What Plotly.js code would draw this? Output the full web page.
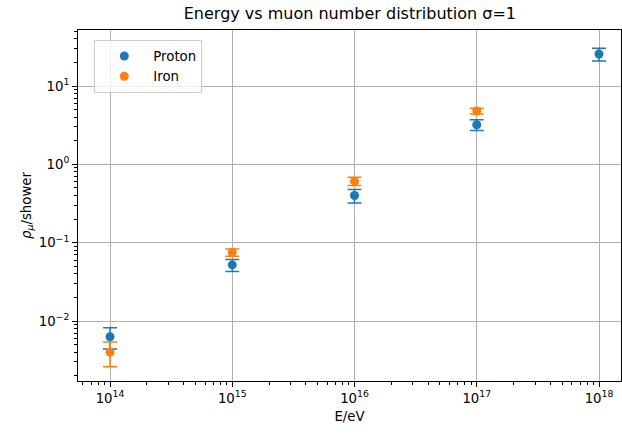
<!DOCTYPE html>
<html>
<head>
<meta charset="utf-8">
<script src="https://cdn.plot.ly/plotly-3.0.1.min.js"></script>
<style>html,body{margin:0;padding:0;background:#fff;}#chart{width:622px;height:435px;}</style>
</head>
<body>
<div id="chart"></div>
<script>
var protonEnergy = [1e14, 1e15, 1e16, 1e17, 1e18];
var protonMuons = [0.0063, 0.052, 0.40, 3.2, 25.6];
var protonErr = [0.0019, 0.009, 0.078, 0.5, 4.8];

var ironEnergy = [1e14, 1e15, 1e16, 1e17];
var ironMuons = [0.0040, 0.075, 0.61, 4.8];
var ironErr = [0.0014, 0.008, 0.075, 0.4];

var xTickVals = [1e14, 1e15, 1e16, 1e17, 1e18];
var xTickText = ['10<sup>14</sup>', '10<sup>15</sup>', '10<sup>16</sup>', '10<sup>17</sup>', '10<sup>18</sup>'];
var yTickVals = [0.01, 0.1, 1, 10];
var yTickText = ['10<sup>\u22122</sup>', '10<sup>\u22121</sup>', '10<sup>0</sup>', '10<sup>1</sup>'];

var traces = [
  {
    x: protonEnergy, y: protonMuons, name: 'Proton', type: 'scatter', mode: 'markers',
    marker: {color: '#1f77b4', size: 9},
    error_y: {type: 'data', array: protonErr, visible: true, color: '#1f77b4', thickness: 1.5, width: 7}
  },
  {
    x: ironEnergy, y: ironMuons, name: 'Iron', type: 'scatter', mode: 'markers',
    marker: {color: '#ff7f0e', size: 9},
    error_y: {type: 'data', array: ironErr, visible: true, color: '#ff7f0e', thickness: 1.5, width: 7}
  }
];

var layout = {
  width: 622, height: 435,
  margin: {l: 78, r: 1, t: 30, b: 54},
  paper_bgcolor: '#fff', plot_bgcolor: '#fff',
  font: {family: 'DejaVu Sans', size: 13.3, color: '#000'},
  title: {text: 'Energy vs muon number distribution \u03c3=1', font: {size: 16}, x: 0.5625, xanchor: 'center', y: 0.97, yanchor: 'middle'},
  showlegend: true,
  legend: {x: 0.03, y: 0.972, xanchor: 'left', yanchor: 'top', bgcolor: 'rgba(255,255,255,0.8)', bordercolor: '#cccccc', borderwidth: 1, font: {size: 13.3}, itemwidth: 48},
  xaxis: {
    type: 'log', range: [13.738, 18.18],
    tickvals: xTickVals, ticktext: xTickText,
    ticks: 'outside', ticklen: 5, tickcolor: '#000',
    showline: true, linecolor: '#000', linewidth: 1, mirror: true,
    showgrid: true, gridcolor: '#b0b0b0', gridwidth: 1,
    zeroline: false,
    minor: {ticks: 'outside', ticklen: 3, tickcolor: '#000', showgrid: false, dtick: 'D1', tickmode: 'linear'},
    title: {text: 'E/eV', font: {size: 13.3}, standoff: 6}
  },
  yaxis: {
    type: 'log', range: [-2.766, 1.715],
    tickvals: yTickVals, ticktext: yTickText,
    ticks: 'outside', ticklen: 5, tickcolor: '#000',
    showline: true, linecolor: '#000', linewidth: 1, mirror: true,
    showgrid: true, gridcolor: '#b0b0b0', gridwidth: 1,
    zeroline: false,
    minor: {ticks: 'outside', ticklen: 3, tickcolor: '#000', showgrid: false, dtick: 'D1', tickmode: 'linear'},
    title: {text: '<i>\u03c1</i><sub><i>\u03bc</i></sub>/shower', font: {size: 13.3}, standoff: 4}
  }
};

Plotly.newPlot('chart', traces, layout, {displayModeBar: false, staticPlot: true});
</script>
</body>
</html>
